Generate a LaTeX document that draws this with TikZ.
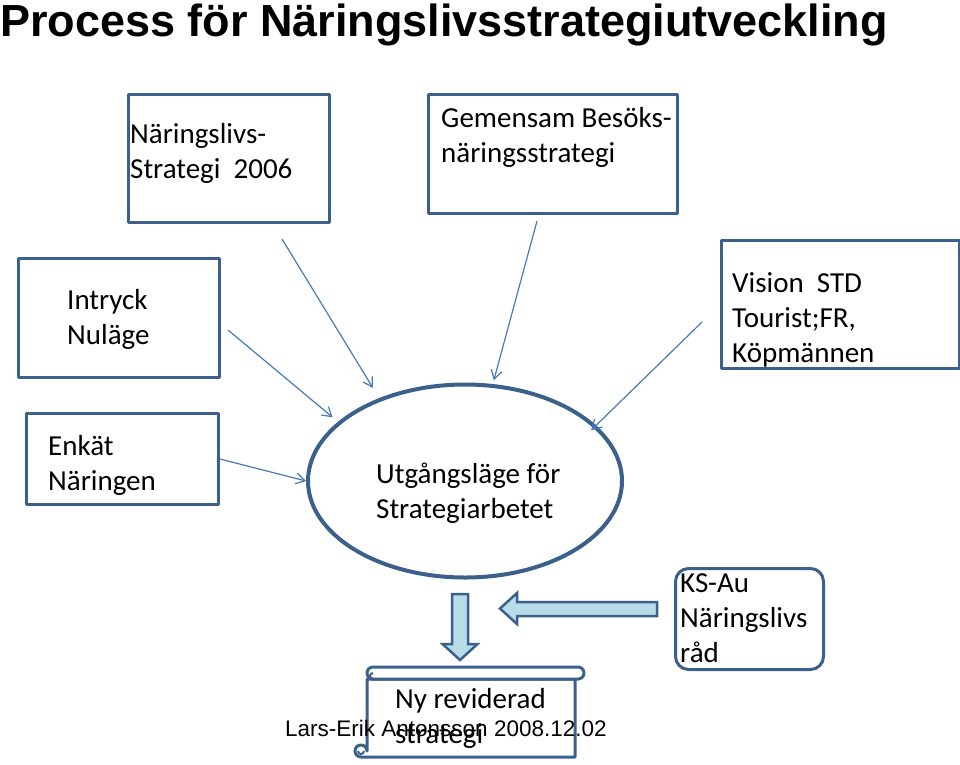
\documentclass[tikz,border=0pt]{standalone}
\usepackage{fontspec}
\usetikzlibrary{shapes.geometric,arrows.meta}
\newfontfamily\bodyfont{Carlito}
\newfontfamily\headfont{Liberation Sans}
\definecolor{boxblue}{RGB}{60,96,140}
\definecolor{linkblue}{RGB}{74,122,180}
\definecolor{arrfill}{RGB}{183,221,232}
\begin{document}
\begin{tikzpicture}[x=1pt,y=-1pt,>={Straight Barb[length=9pt,width=11pt]},line join=round,
	box/.style={draw=boxblue,line width=3pt,fill=white,inner sep=0pt,anchor=north west},
	txt/.style={anchor=base west,inner sep=0pt,align=left,font=\bodyfont\fontsize{29}{35}\selectfont},
	link/.style={->,draw=linkblue,line width=1.2pt},
	blockarrow/.style={draw=boxblue,line width=2.5pt,fill=arrfill,line join=miter}]
	\useasboundingbox (0,0) rectangle (960,764);
	\node[anchor=base west,inner sep=0pt,font=\headfont\bfseries\fontsize{45}{54}\selectfont] (title) at (0,36) {Process för Näringslivsstrategiutveckling};
	% boxes
	\node[box,minimum width=201pt,minimum height=128pt] (nls) at (127,93) {};
	\node[box,minimum width=249pt,minimum height=119pt] (gem) at (427,93) {};
	\node[box,minimum width=201pt,minimum height=119pt] (int) at (17,257) {};
	\node[box,minimum width=238pt,minimum height=128pt] (vis) at (720,239) {};
	\node[box,minimum width=192pt,minimum height=91pt] (enk) at (25,412) {};
	\node[box,rounded corners=13pt,minimum width=148pt,minimum height=101pt] (ks) at (674,567) {};
	\node[draw=boxblue,line width=4pt,fill=white,ellipse,minimum width=314pt,minimum height=193pt,inner sep=0pt] (ell) at (465,481) {};
	% connectors
	\coordinate (nlsO) at (282,239);
	\coordinate (gemO) at (537,221);
	\coordinate (intO) at (228,330);
	\coordinate (visO) at (702,322);
	\draw[link,shorten >=12pt] (nlsO) -- (ell.136);
	\draw[link,shorten >=4pt] (gemO) -- (ell.74);
	\draw[link,shorten >=7pt] (intO) -- (ell.155);
	\draw[link,shorten >=-7pt] (visO) -- (ell.23);
	\draw[link] (enk.east) -- (ell.180);
	% block arrows
	\draw[blockarrow] (452,594) -- (468,594) -- (468,644) -- (477.5,644) -- (460,660) -- (442.5,644) -- (452,644) -- cycle;
	\draw[blockarrow] (657,602) -- (517,602) -- (517,593) -- (500,608.5) -- (517,624) -- (517,616) -- (657,616) -- cycle;
	% scroll
	\draw[boxblue,line width=3pt,fill=white] (575,679) -- (575,757) -- (361,757) arc (90:360:6) -- (367,679) -- cycle;
	\draw[boxblue,line width=2pt] (364,751) arc (0:180:3);
	\draw[boxblue,line width=3pt,fill=white] (373,667) -- (578,667) arc (270:450:6) -- (373,679) arc (90:270:6) -- cycle;
	\draw[boxblue,line width=2pt] (373,679) arc (90:270:3);
	% texts (base = last line)
	\node[txt] (nlsT) at (130,178) {Näringslivs-\\Strategi\ \ 2006};
	\node[txt] (gemT) at (441,162) {Gemensam Besöks-\\näringsstrategi};
	\node[txt] (intT) at (67,344) {Intryck\\Nuläge};
	\node[txt] (visT) at (732,362) {Vision\ \ STD\\Tourist;FR,\\Köpmännen};
	\node[txt] (enkT) at (48,490) {Enkät\\Näringen};
	\node[txt] (ellT) at (376,518) {Utgångsläge för\\Strategiarbetet};
	\node[txt] (ksT) at (680,662) {KS-Au\\Näringslivs\\råd};
	\node[txt] (scrT) at (395,743) {Ny reviderad\\strategi};
	\node[anchor=base west,inner sep=0pt,font=\headfont\fontsize{22.5}{27}\selectfont] (foot) at (285,736) {Lars-Erik Antonsson 2008.12.02};
\end{tikzpicture}
\end{document}
